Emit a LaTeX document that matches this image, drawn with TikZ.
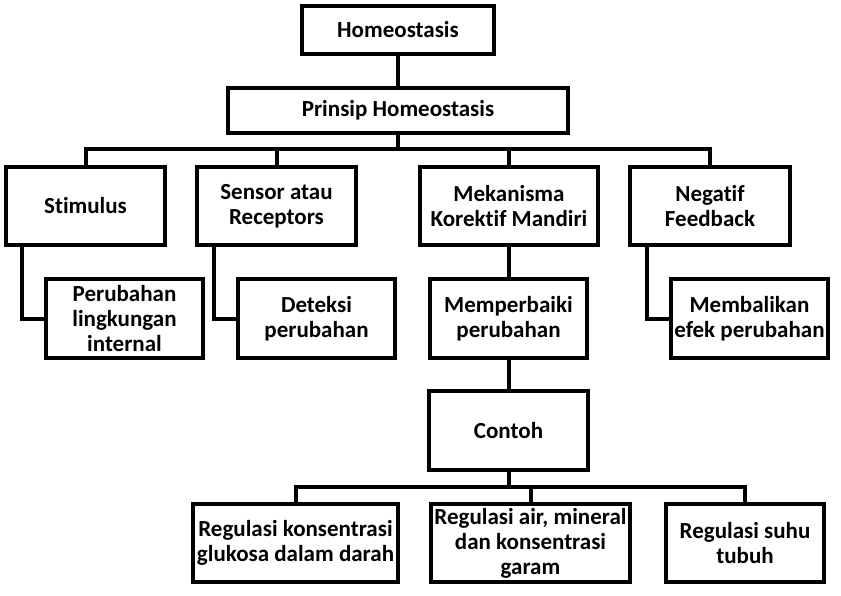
\documentclass[tikz,border=0pt]{standalone}
\usepackage{fontspec}
\setmainfont[Ligatures=NoCommon]{Carlito}
\usepackage{tikz}

\begin{document}
\begin{tikzpicture}[x=1pt, y=-1pt, line width=4pt,
    box/.style={rectangle, draw, line width=4pt, fill=white, inner sep=0pt, outer sep=0pt,
        align=center, font=\fontsize{23}{25}\selectfont\bfseries},
    top/.style={box, minimum height=78pt}]
    \useasboundingbox (0,0) rectangle (841,596);

    % Top levels
    \node (home) at (398,30) [box, minimum width=192pt, minimum height=48pt] {Homeostasis};
    \node (prinsip) at (398,110.5) [box, minimum width=340pt, minimum height=45pt] {Prinsip Homeostasis};
    \draw (home) -- (prinsip);

    % Four principles
    \node (stim) at (85.5,206) [top, minimum width=159pt] {Stimulus};
    \node (sensor) at (276.5,206) [top, minimum width=159pt] {Sensor atau\\Receptors};
    \node (meka) at (509,206) [top, minimum width=178pt] {Mekanisma\\Korektif Mandiri};
    \node (neg) at (710,206) [top, minimum width=160pt] {Negatif\\Feedback};
    \coordinate (bus) at (398,149.5);
    \draw (prinsip) -- (bus);
    \foreach \n in {stim,sensor,meka,neg}
        \draw (bus) -| (\n.north);

    % What each principle does
    \node (perub) at (124.5,318.5) [top, minimum width=157pt, minimum height=79pt] {Perubahan\\lingkungan\\internal};
    \node (deteksi) at (316.5,318.5) [top, minimum width=157pt, minimum height=79pt] {Deteksi\\perubahan};
    \node (perbaiki) at (508.5,318.5) [top, minimum width=157pt, minimum height=79pt] {Memperbaiki\\perubahan};
    \node (balik) at (749.5,318.5) [top, minimum width=157pt, minimum height=79pt] {Membalikan\\efek perubahan};
    \draw (stim.south -| 22,0) |- (perub.west);
    \draw (sensor.south -| 214,0) |- (deteksi.west);
    \draw (meka.south -| perbaiki.north) -- (perbaiki.north);
    \draw (neg.south -| 647,0) |- (balik.west);

    % Examples
    \node (contoh) at (508.5,430.5) [top, minimum width=159pt, minimum height=79pt] {Contoh};
    \draw (perbaiki) -- (contoh);
    \node (glukosa) at (295.5,543) [top, minimum width=205pt] {Regulasi konsentrasi\\glukosa dalam darah};
    \node (garam) at (530.5,543) [top, minimum width=199pt] {Regulasi air, mineral\\dan konsentrasi\\garam};
    \node (suhu) at (745,543) [top, minimum width=158pt] {Regulasi suhu\\tubuh};
    \coordinate (bus2) at (508.5,487);
    \draw (contoh) -- (bus2);
    \foreach \n in {glukosa,garam,suhu}
        \draw (bus2) -| (\n.north);
\end{tikzpicture}
\end{document}
